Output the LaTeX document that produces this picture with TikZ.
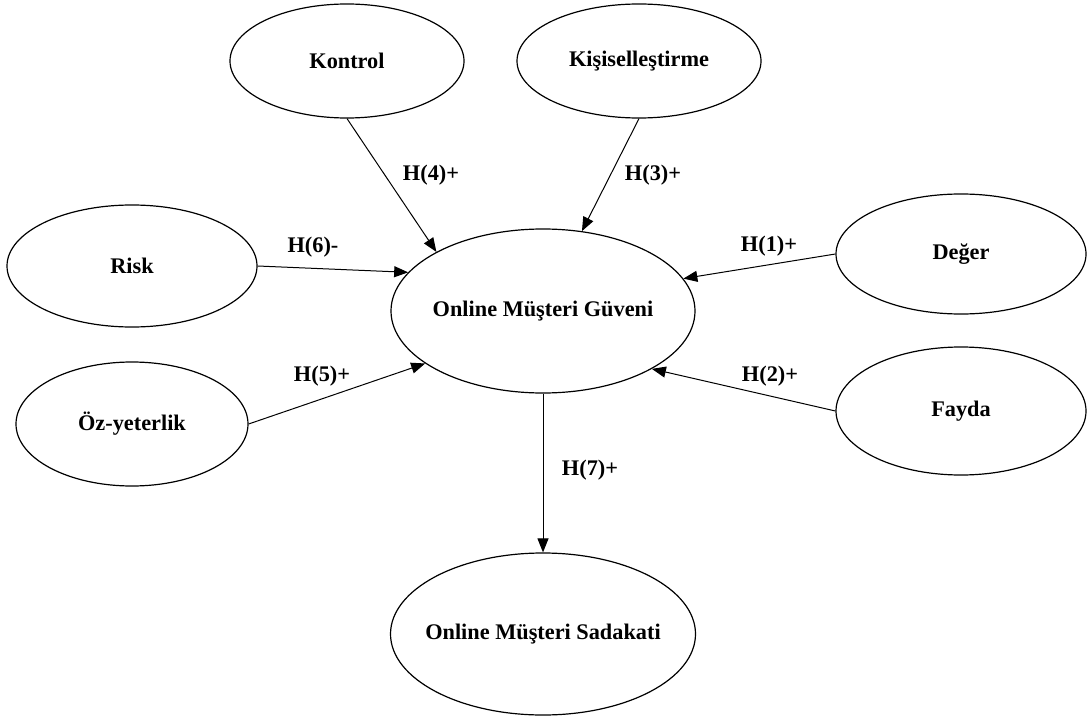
\documentclass[tikz,border=0pt]{standalone}
\usepackage{fontspec}
\setmainfont{Liberation Serif}
\usetikzlibrary{shapes.geometric,arrows.meta}
\begin{document}
\begin{tikzpicture}[x=1pt,y=-1pt,
  construct/.style={draw,ellipse,line width=1.2pt,inner ysep=0pt,inner xsep=-40pt,font=\fontsize{22.3}{26}\selectfont\bfseries},
  hyp/.style={font=\fontsize{22.3}{26}\selectfont\bfseries,inner sep=0pt},
  arr/.style={line width=1pt,-{Triangle[length=14pt,width=11pt]}}]
\useasboundingbox (0,0) rectangle (1091,722);
\node[construct,minimum width=234pt,minimum height=114pt] (kon) at (347,61) {Kontrol};
\node[construct,minimum width=244pt,minimum height=114pt] (kis) at (639,61) {Kişiselleştirme};
\node[construct,minimum width=250pt,minimum height=122pt] (risk) at (132,266) {Risk};
\node[construct,minimum width=250pt,minimum height=120pt] (deg) at (961,254) {Değer};
\node[construct,minimum width=304pt,minimum height=164pt] (gu) at (543,311) {Online Müşteri Güveni};
\node[construct,minimum width=232pt,minimum height=124pt] (oz) at (132,424) {Öz-yeterlik};
\node[construct,minimum width=250pt,minimum height=128pt] (fay) at (961,411) {Fayda};
\node[construct,minimum width=305pt,minimum height=162pt] (sad) at (543,634) {Online Müşteri Sadakati};
\draw[arr] (kon.south) -- (gu.151.6);
\draw[arr] (kis.south) -- (gu.64.3);
\draw[arr] (risk.east) -- (gu.164.5);
\draw[arr] (deg.west) -- (gu.13.4);
\draw[arr] (oz.east) -- (gu.204);
\draw[arr] (fay.west) -- (gu.332.8);
\draw[arr] (gu.south) -- (sad.north);
\node[hyp] (h4) at (431,175) {H(4)+};
\node[hyp] (h3) at (653,175) {H(3)+};
\node[hyp] (h6) at (313,247) {H(6)-};
\node[hyp] (h1) at (769,246) {H(1)+};
\node[hyp] (h5) at (322,376) {H(5)+};
\node[hyp] (h2) at (770,376) {H(2)+};
\node[hyp] (h7) at (590,470) {H(7)+};
\end{tikzpicture}
\end{document}
